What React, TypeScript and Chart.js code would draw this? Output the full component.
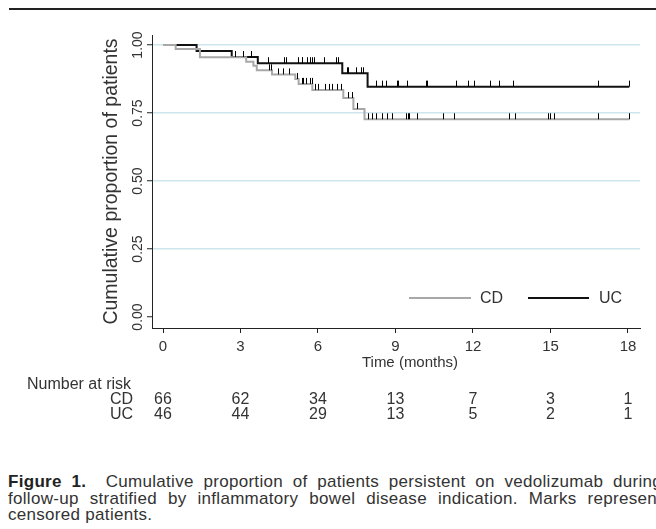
import React, { useEffect, useRef } from 'react';
import { Chart, registerables } from 'chart.js';

Chart.register(...registerables);

const FONT = '"Liberation Sans", Arial, Helvetica, sans-serif';
const TEXT = '#333333';

// Axis ticks
const xTicks = [0, 3, 6, 9, 12, 15, 18];
const yTicks = [0, 0.25, 0.5, 0.75, 1];
const yTickLabels = ['0.00', '0.25', '0.50', '0.75', '1.00'];

// Kaplan-Meier steps (time in months, proportion after the step)
const cdTimes = [0, 0.49, 1.43, 3.22, 3.5, 3.63, 4.22, 5.12, 5.25, 5.78, 6.98, 7.37, 7.8, 18.05];
const cdSurv = [1, 0.985, 0.955, 0.938, 0.924, 0.907, 0.892, 0.875, 0.857, 0.835, 0.805, 0.765, 0.727, 0.727];
const ucTimes = [0, 1.3, 2.66, 3.67, 6.94, 7.92, 18.05];
const ucSurv = [1, 0.978, 0.956, 0.933, 0.896, 0.847, 0.847];

// Censored observations (months)
const cdCensored = [4.12, 4.17, 4.44, 4.66, 4.88, 5.2, 5.37, 5.43, 5.53, 5.69, 5.76, 5.9, 6.01, 6.27, 6.43, 6.55, 6.72, 6.89, 7.18, 7.3, 7.52, 7.95, 8.1, 8.25, 8.47, 8.66, 8.88, 9.4, 9.5, 9.54, 9.82, 10.85, 11.28, 13.41, 13.64, 14.89, 14.98, 15.15, 16.85, 18.05];
const ucCensored = [2.79, 3.1, 3.41, 4.05, 4.68, 4.75, 5.22, 5.37, 5.4, 5.58, 5.7, 5.78, 5.85, 6.24, 6.7, 6.78, 7.14, 7.18, 7.47, 7.68, 7.76, 8.23, 8.47, 8.63, 9.05, 9.11, 9.43, 10.18, 10.22, 11.33, 11.8, 12.05, 12.66, 13.02, 13.56, 16.85, 18.05];

// Number at risk
const riskTimes = [0, 3, 6, 9, 12, 15, 18];
const riskCD = [66, 62, 34, 13, 7, 3, 1];
const riskUC = [46, 44, 29, 13, 5, 2, 1];

const seriesNames = ['CD', 'UC'];
const seriesColors = ['#a8a8a8', '#111111'];

function levelAt(times: number[], surv: number[], t: number) {
  let s = surv[0];
  for (let i = 0; i < times.length; i++) if (times[i] <= t) s = surv[i];
  return s;
}

const extrasPlugin = {
  id: 'kmExtras',
  afterDatasetsDraw(chart: any) {
    const { ctx, scales } = chart;
    const x = scales.x;
    const y = scales.y;
    ctx.save();
    ctx.strokeStyle = '#000';
    ctx.lineWidth = 1;
    const marks = (times: number[], surv: number[], cens: number[]) => {
      cens.forEach((t) => {
        const px = Math.round(x.getPixelForValue(t)) + 0.5;
        const py = y.getPixelForValue(levelAt(times, surv, t));
        ctx.beginPath();
        ctx.moveTo(px, py);
        ctx.lineTo(px, py - 6);
        ctx.stroke();
      });
    };
    marks(cdTimes, cdSurv, cdCensored);
    marks(ucTimes, ucSurv, ucCensored);
    ctx.restore();
  },
  afterDraw(chart: any) {
    const { ctx, scales } = chart;
    const x = scales.x;
    const y = scales.y;
    ctx.save();
    ctx.fillStyle = TEXT;
    // y tick labels, rotated
    ctx.font = `14px ${FONT}`;
    yTicks.forEach((v, i) => {
      const py = y.getPixelForValue(v);
      ctx.save();
      ctx.translate(142, py);
      ctx.rotate(-Math.PI / 2);
      ctx.textAlign = 'center';
      ctx.textBaseline = 'alphabetic';
      ctx.fillText(yTickLabels[i], 0, 0);
      ctx.restore();
    });
    // x title
    ctx.font = `15px ${FONT}`;
    ctx.textAlign = 'center';
    ctx.textBaseline = 'middle';
    ctx.fillText('Time (months)', 410, 363);
    // legend
    const legendItems = [
      { x0: 409, x1: 471, tx: 480 },
      { x0: 528, x1: 589, tx: 599 },
    ];
    ctx.font = `16px ${FONT}`;
    legendItems.forEach((it, i) => {
      ctx.strokeStyle = seriesColors[i];
      ctx.lineWidth = 2;
      ctx.beginPath();
      ctx.moveTo(it.x0, 298);
      ctx.lineTo(it.x1, 298);
      ctx.stroke();
      ctx.textAlign = 'left';
      ctx.textBaseline = 'middle';
      ctx.fillText(seriesNames[i], it.tx, 299);
    });
    // number at risk table
    ctx.font = `16px ${FONT}`;
    ctx.textAlign = 'left';
    ctx.textBaseline = 'middle';
    ctx.fillText('Number at risk', 27, 385);
    const rows = [riskCD, riskUC];
    rows.forEach((row, r) => {
      const py = 400 + r * 14.5;
      ctx.textAlign = 'right';
      ctx.fillText(seriesNames[r], 133, py);
      ctx.textAlign = 'center';
      row.forEach((n, i) => {
        ctx.fillText(String(n), x.getPixelForValue(riskTimes[i]), py);
      });
    });
    ctx.restore();
  },
};

export default function App() {
  const canvasRef = useRef<HTMLCanvasElement | null>(null);

  useEffect(() => {
    if (!canvasRef.current) return;
    Chart.defaults.font.family = FONT;
    Chart.defaults.color = TEXT;
    const chart = new Chart(canvasRef.current, {
      type: 'line',
      data: {
        datasets: [
          {
            label: 'CD',
            data: cdTimes.map((t, i) => ({ x: t, y: cdSurv[i] })),
            borderColor: seriesColors[0],
            borderWidth: 2,
            stepped: true,
            pointRadius: 0,
            fill: false,
          },
          {
            label: 'UC',
            data: ucTimes.map((t, i) => ({ x: t, y: ucSurv[i] })),
            borderColor: seriesColors[1],
            borderWidth: 2,
            stepped: true,
            pointRadius: 0,
            fill: false,
          },
        ],
      },
      options: {
        animation: false,
        responsive: false,
        devicePixelRatio: 1,
        layout: { padding: { left: 0, right: 16, top: 35, bottom: 68 } },
        plugins: { legend: { display: false }, tooltip: { enabled: false } },
        scales: {
          x: {
            type: 'linear',
            min: -0.426,
            max: 18.465,
            afterBuildTicks: (axis: any) => {
              axis.ticks = xTicks.map((v) => ({ value: v }));
            },
            afterFit: (scale: any) => {
              scale.height = 44;
            },
            ticks: {
              font: { size: 15 },
              color: TEXT,
              padding: 5,
              maxRotation: 0,
              autoSkip: false,
              callback: (v: any) => String(v),
            },
            grid: {
              drawOnChartArea: false,
              drawTicks: true,
              tickLength: 5,
              tickColor: '#222',
              tickWidth: 1,
            },
            border: { color: '#222', width: 1 },
          },
          y: {
            type: 'linear',
            min: -0.0404,
            max: 1.0368,
            afterBuildTicks: (axis: any) => {
              axis.ticks = yTicks.map((v) => ({ value: v }));
            },
            afterFit: (scale: any) => {
              scale.width = 152;
            },
            ticks: { display: false },
            title: {
              display: true,
              text: 'Cumulative proportion of patients',
              font: { size: 19.5 },
              color: TEXT,
              padding: { top: 100, bottom: 0 },
            },
            grid: {
              color: (c: any) => (c.tick && c.tick.value === 0 ? 'rgba(0,0,0,0)' : '#cfe5ee'),
              lineWidth: 1.5,
              drawTicks: true,
              tickLength: 5,
              tickColor: '#222',
              tickWidth: 1,
            },
            border: { color: '#222', width: 1 },
          },
        },
      },
      plugins: [extrasPlugin],
    } as any);
    return () => chart.destroy();
  }, []);

  const justified: React.CSSProperties = { textAlign: 'justify', textAlignLast: 'justify' as any };

  return (
    <div
      style={{
        position: 'fixed',
        left: 0,
        top: 0,
        width: 656,
        height: 529,
        overflow: 'hidden',
        background: '#fff',
      }}
    >
      <div style={{ position: 'absolute', left: 9, top: 8, width: 647, height: 2, background: '#222' }} />
      <canvas ref={canvasRef} width={656} height={440} style={{ position: 'absolute', left: 0, top: 0, width: 656, height: 440 }} />
      <div
        style={{
          position: 'absolute',
          left: 8,
          top: 474,
          width: 654,
          fontFamily: FONT,
          fontSize: 17,
          letterSpacing: '0.3px',
          lineHeight: '16.5px',
          color: '#333',
        }}
      >
        <div style={justified}>
          <b style={{ color: '#222' }}>Figure 1.</b>&nbsp; Cumulative proportion of patients persistent on vedolizumab during
        </div>
        <div style={justified}>follow-up stratified by inflammatory bowel disease indication. Marks represent</div>
        <div>censored patients.</div>
      </div>
    </div>
  );
}
